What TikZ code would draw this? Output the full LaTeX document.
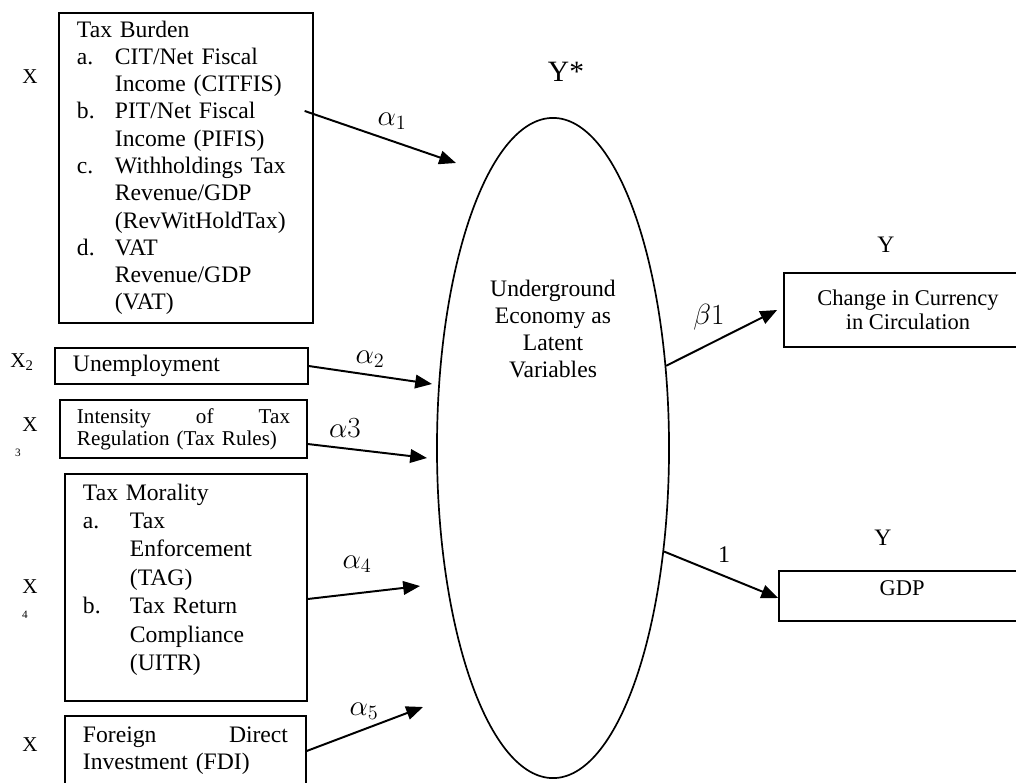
\documentclass[tikz,border=0pt]{standalone}
\usepackage{fontspec}
\setmainfont{Liberation Serif}
\usepackage{amsmath}
\usetikzlibrary{shapes.geometric,arrows.meta}

\begin{document}
\begin{tikzpicture}[x=0.025cm, y=-0.025cm,
    box/.style={draw, line width=0.9pt, inner xsep=0.45cm, inner ysep=0pt, align=left, font=\fontsize{16.8}{19.4}\selectfont},
    outbox/.style={draw, line width=1.2pt, inner sep=0pt, font=\fontsize{16}{17}\selectfont},
    arr/.style={line width=1.4pt, -{Triangle[length=0.42cm, width=0.34cm]}},
    coef/.style={font=\fontsize{21}{23}\selectfont},
    xlab/.style={font=\fontsize{15}{17}\selectfont},
    sublab/.style={font=\fontsize{8}{9}\selectfont},
    ]
    \useasboundingbox (0,0) rectangle (1016,782);
    \clip (0,0) rectangle (1016,782);

    \node[box, text width=5.45cm, minimum height=7.75cm] (tb) at (186,168) {%
        \begin{tabular}{@{}p{0.95cm}@{}l@{}}
        \multicolumn{2}{@{}l@{}}{Tax Burden}\\
        a. & CIT/Net Fiscal\\
           & Income (CITFIS)\\
        b. & PIT/Net Fiscal\\
           & Income (PIFIS)\\
        c. & Withholdings Tax\\
           & Revenue/GDP\\
           & (RevWitHoldTax)\\
        d. & VAT\\
           & Revenue/GDP\\
           & (VAT)
        \end{tabular}};
    \node[box, text width=5.425cm, minimum height=0.9cm] (un) at (181.5,366) {Unemployment};
    \node[box, text width=5.325cm, inner xsep=0.425cm, minimum height=1.45cm, font=\fontsize{15}{15.6}\selectfont] (tr) at (183.5,429) {Intensity\hfill of\hfill Tax\\Regulation (Tax Rules)};
    \node[box, text width=5.15cm, minimum height=5.675cm, font=\fontsize{16.8}{20.2}\selectfont] (tm) at (186,587.5) {%
        \begin{tabular}{@{}p{1.175cm}@{}l@{}}
        \multicolumn{2}{@{}l@{}}{Tax Morality}\\
        a. & Tax\\
           & Enforcement\\
           & (TAG)\\
        b. & Tax Return\\
           & Compliance\\
           & (UITR)\rule[-0.61cm]{0pt}{0.61cm}
        \end{tabular}};
    \node[box, text width=5.125cm, minimum height=1.75cm] (fdi) at (185.5,751) {Foreign\hfill Direct\\Investment (FDI)};

    \node[xlab] (x1) at (30,77) {X};
    \node[xlab] (x2) at (22,362) {X\textsubscript{2}};
    \node[xlab] (x3) at (30,425) {X};
    \node[sublab] (x3s) at (18,453) {3};
    \node[xlab] (x4) at (30,587) {X};
    \node[sublab] (x4s) at (25,615) {4};
    \node[xlab] (x5) at (30,745) {X};

    \node[draw, ellipse, line width=1.2pt, minimum width=5.8cm, minimum height=16.5cm, inner sep=0pt] (lat) at (553,448) {};
    \node[align=center, font=\fontsize{16.8}{19.4}\selectfont] (latxt) at (553,329) {Underground\\Economy as\\Latent\\Variables};
    \node[font=\fontsize{21}{24}\selectfont] (ystar) at (566,72) {Y*};

    \node[outbox, align=center, minimum width=6.2cm, minimum height=1.85cm] (cur) at (908,310) {Change in Currency\\in Circulation};
    \node[outbox, minimum width=6.15cm, text height=0.6cm, text depth=0.65cm] (gdp) at (902,596) {GDP};
    \node[font=\fontsize{16.8}{19.4}\selectfont] (y1) at (886,245) {Y};
    \node[font=\fontsize{16.8}{19.4}\selectfont] (y2) at (883,538) {Y};

    \coordinate (t1) at (456,163);
    \coordinate (t2) at (432,384);
    \coordinate (t3) at (427,458);
    \coordinate (t4) at (420,586);
    \coordinate (t5) at (423,707);

    \draw[arr] ([xshift=-0.225cm, yshift=1.425cm]tb.east) -- (t1);
    \draw[arr] (un.east) -- (t2);
    \draw[arr] ([yshift=-0.375cm]tr.east) -- (t3);
    \draw[arr] ([yshift=-0.2875cm]tm.east) -- (t4);
    \draw[arr] (fdi.east) -- (t5);
    \draw[arr] (lat.36.5) -- ([xshift=-0.15cm]cur.west);
    \draw[arr] (lat.-43.7) -- ([yshift=-0.05cm]gdp.west);

    \node[coef] (c1) at (392,121) {$\alpha_1$};
    \node[coef] (c2) at (370,359) {$\alpha_2$};
    \node[coef] (c3) at (345,428) {$\alpha3$};
    \node[coef] (c4) at (357,564) {$\alpha_4$};
    \node[coef] (c5) at (364,711) {$\alpha_5$};
    \node[coef] (c6) at (709,317) {$\beta1$};
    \node[font=\fontsize{17}{19}\selectfont] (c7) at (724,555) {1};
\end{tikzpicture}
\end{document}
